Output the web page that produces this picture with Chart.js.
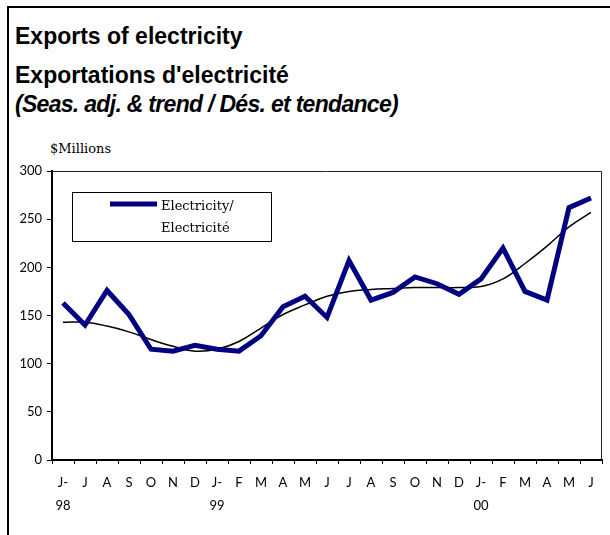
<!DOCTYPE html>
<html>
<head>
<meta charset="utf-8">
<script src="https://cdn.jsdelivr.net/npm/chart.js@4.4.1/dist/chart.umd.min.js"></script>
<style>
  html, body { margin: 0; padding: 0; background: #fff; }
  #wrap { position: relative; width: 610px; height: 535px; overflow: hidden; }
  #frame { position: absolute; left: 7px; top: 6px; right: -10px; bottom: -10px;
           border-top: 2px solid #000; border-left: 2px solid #000; }
  .title { position: absolute; left: 15px; font-family: "Liberation Sans", Arial, sans-serif;
           font-weight: bold; font-size: 23px; line-height: 23px; color: #000; white-space: nowrap; }
  #t3 { font-style: italic; letter-spacing: -0.7px; }
  #unit { position: absolute; left: 50px; top: 142px; font-family: "DejaVu Serif", serif;
          font-size: 13px; line-height: 13px; color: #000; }
  canvas { position: absolute; left: 0; top: 0; }
</style>
</head>
<body>
<div id="wrap">
  <div id="frame"></div>
  <div class="title" id="t1" style="top:25px">Exports of electricity</div>
  <div class="title" id="t2" style="top:64px">Exportations d'electricité</div>
  <div class="title" id="t3" style="top:93px">(Seas. adj. &amp; trend / Dés. et tendance)</div>
  <div id="unit">$Millions</div>
  <canvas id="chart" width="610" height="535"></canvas>
</div>
<script>
// Donnees
const months = ['J-','J','A','S','O','N','D','J-','F','M','A','M','J','J','A','S','O','N','D','J-','F','M','A','M','J'];
const years = ['98','','','','','','','99','','','','','','','','','','','','00','','','','',''];
const electricity = [163, 140, 176, 151, 115, 113, 119, 115, 113, 129, 159, 170, 148, 207, 166, 174, 190, 183, 172, 188, 220, 175, 166, 262, 272];
const trend = [143, 143, 139, 133, 125, 118, 113, 115, 123, 137, 151, 161, 170, 175, 177, 178, 179, 179, 179, 180, 188, 204, 222, 242, 257];
const yTicks = [0, 50, 100, 150, 200, 250, 300];

const labels = months.map(function (m, i) {
    return years[i] ? [m, years[i]] : m;
});

// cadre haut/droite de la zone de trace + legende
const framePlugin = {
    id: 'framePlugin',
    afterDraw: function (chart) {
        const c = chart.ctx;
        const a = chart.chartArea;
        c.save();
        c.strokeStyle = '#222';
        c.lineWidth = 1;
        c.beginPath();
        c.moveTo(a.left, a.top + 0.5);
        c.lineTo(a.right - 0.5, a.top + 0.5);
        c.lineTo(a.right - 0.5, a.bottom);
        c.stroke();

        // legende dans la zone
        const ds = chart.data.datasets[0];
        const bx = a.left + 20, by = a.top + 21;
        c.fillStyle = '#fff';
        c.fillRect(bx, by, 199, 49);
        c.strokeStyle = '#000';
        c.strokeRect(bx + 0.5, by + 0.5, 199, 49);
        c.strokeStyle = ds.borderColor;
        c.lineWidth = ds.borderWidth;
        c.beginPath();
        c.moveTo(bx + 38, by + 12);
        c.lineTo(bx + 85, by + 12);
        c.stroke();
        c.fillStyle = '#000';
        c.font = '13px "DejaVu Serif", serif';
        c.textBaseline = 'alphabetic';
        const parts = ds.label.split('/');
        c.fillText(parts[0] + '/', bx + 89, by + 18);
        c.fillText(parts[1], bx + 89, by + 40);
        c.restore();
    }
};

const ctx = document.getElementById('chart').getContext('2d');
new Chart(ctx, {
    type: 'line',
    data: {
        labels: labels,
        datasets: [
            {
                label: 'Electricity/Electricité',
                data: electricity,
                borderColor: '#000080',
                borderWidth: 5,
                pointRadius: 0,
                tension: 0,
                fill: false
            },
            {
                label: 'Trend',
                data: trend,
                borderColor: '#000',
                borderWidth: 1.5,
                pointRadius: 0,
                tension: 0.4,
                fill: false
            }
        ]
    },
    options: {
        responsive: false,
        animation: false,
        layout: { padding: { top: 171, right: 8, bottom: 15, left: 0 } },
        plugins: {
            legend: { display: false },
            tooltip: { enabled: false }
        },
        scales: {
            x: {
                offset: true,
                grid: { offset: true, drawOnChartArea: false, color: '#000', tickLength: 4, lineWidth: 1 },
                border: { color: '#000', width: 2 },
                ticks: {
                    autoSkip: false, maxRotation: 0, padding: 7, color: '#000',
                    font: { family: 'Lato', size: 13, lineHeight: '23px' }
                },
                afterFit: function (s) { s.height = 60; }
            },
            y: {
                min: 0,
                max: 300,
                afterBuildTicks: function (s) {
                    s.ticks = yTicks.map(function (v) { return { value: v }; });
                },
                grid: { drawOnChartArea: false, color: '#000', tickLength: 5, lineWidth: 1 },
                border: { color: '#000', width: 2 },
                ticks: { padding: 5, color: '#000', font: { family: 'Lato', size: 13 } },
                afterFit: function (s) { s.width = 52; }
            }
        }
    },
    plugins: [framePlugin]
});
</script>
</body>
</html>
